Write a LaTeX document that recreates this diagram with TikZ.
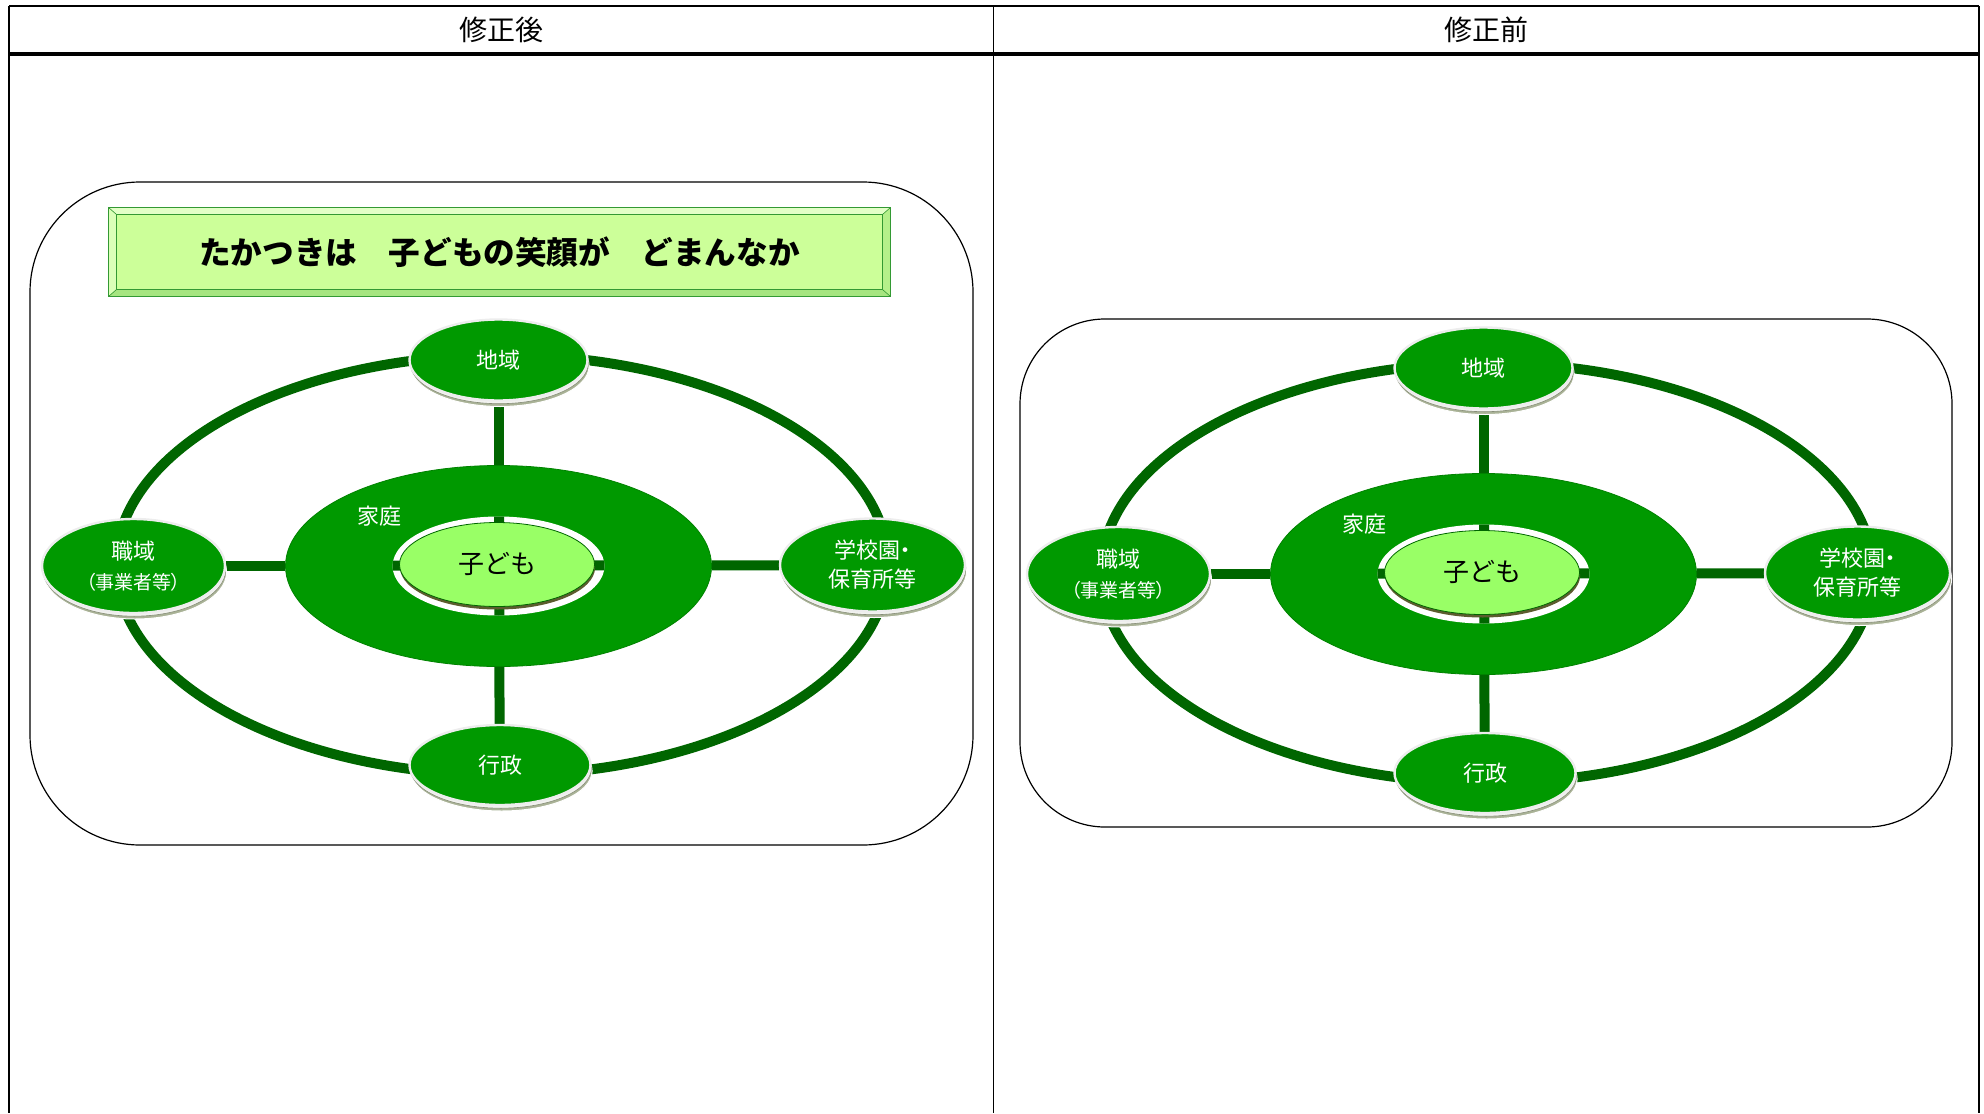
\documentclass[tikz,border=0pt]{standalone}
\usepackage{fontspec}
\newfontfamily\jp{Noto Sans CJK JP}
\usetikzlibrary{shapes.geometric,shadows,backgrounds}

\definecolor{ringgreen}{HTML}{006600}
\definecolor{nodegreen}{HTML}{009900}
\definecolor{childgreen}{HTML}{99FF66}
\definecolor{childshade}{HTML}{5C5C2E}
\definecolor{baseolive}{HTML}{A9B296}
\definecolor{titleface}{HTML}{CCFF99}
\definecolor{titleedge}{HTML}{339933}

\tikzset{
  header/.style={font=\jp\fontsize{14}{16}\selectfont},
  panel/.style={draw=black, line width=0.6pt},
  ringline/.style={ellipse, draw=ringgreen, line width=5pt, inner sep=0pt,
    minimum width=386pt, minimum height=210pt},
  spoke/.style={draw=ringgreen, line width=5pt},
  katei/.style={ellipse, fill=nodegreen, draw=nodegreen!85!black, line width=0.4pt,
    inner sep=0pt, minimum width=213pt, minimum height=100.5pt},
  gap/.style={ellipse, fill=white, inner sep=0pt, minimum width=106pt, minimum height=49.5pt},
  kodomo/.style={ellipse, fill=childgreen, draw=ringgreen, line width=0.4pt, inner sep=0pt,
    minimum width=97.5pt, minimum height=42pt, font=\jp\fontsize{13}{15}\selectfont,
    copy shadow={shadow xshift=0.3pt, shadow yshift=-1.5pt, fill=childshade, draw=none}},
  outer/.style={ellipse, fill=nodegreen, draw=white!93!black, line width=1.2pt, text=white,
    inner sep=0pt, align=center, font=\jp\fontsize{11}{14}\selectfont,
    copy shadow={shadow xshift=0.8pt, shadow yshift=-3pt, fill=baseolive, draw=white, line width=0.5pt},
    copy shadow={shadow xshift=0.4pt, shadow yshift=-1.6pt, fill=white!85!baseolive,
      draw=baseolive!80!black, line width=0.3pt}},
  kateilabel/.style={text=white, font=\jp\fontsize{11}{13}\selectfont},
  titlebox/.style={fill=titleface, draw=titleedge, line width=0.6pt, inner sep=0pt,
    minimum width=390.5pt, minimum height=44pt, font=\jp\bfseries\fontsize{15.8}{18}\selectfont},
}

% one ring picture, used in both columns
\newcommand{\ringdiagram}{%
  \node[ringline] (ring) at (502,565) {};
  \node[katei] (katei) at (498.5,566) {};
  \node[gap] (gap) at (498.5,566) {};
  \node[outer, minimum width=89pt, minimum height=40.5pt] (chiiki) at (498.5,360) {地域};
  \node[outer, minimum width=90.5pt, minimum height=40pt] (gyosei) at (500,765) {行政};
  \node[outer, minimum width=91.5pt, minimum height=47pt] (shokuiki) at (133.5,566)
    {職域\\[1pt]{\fontsize{9.5}{11}\selectfont\addfontfeatures{RawFeature=+palt}（事業者等）}};
  \node[outer, minimum width=92.5pt, minimum height=46.5pt, font=\jp\fontsize{11}{14.5}\selectfont]
    (gakko) at (872.5,565) {学校園{\addfontfeatures{RawFeature=+palt}・}\\保育所等};
  \begin{pgfonlayer}{background}
    \draw[spoke] (chiiki) -- (katei);
    \draw[spoke] (gyosei) -- (katei);
    \draw[spoke] (shokuiki) -- (katei);
    \draw[spoke] (gakko) -- (katei);
  \end{pgfonlayer}
  \begin{scope}
    \clip (gap.center) ellipse [x radius=53pt, y radius=24.75pt];
    \draw[spoke] (chiiki) -- (gyosei);
    \draw[spoke] (shokuiki) -- (gakko);
  \end{scope}
  \node[kodomo] (kodomo) at (497,564.5) {\raisebox{1.5pt}{子ども}};
  \node[kateilabel] (kateitxt) at (379,516) {家庭};
}

\begin{document}
\begin{tikzpicture}[x=0.5pt,y=-0.5pt]
\useasboundingbox (0,0) rectangle (1984,1113);

% table
\draw[line width=1.2pt] (9,6) -- (1979,6);
\draw[line width=1.6pt] (9,54) -- (1979,54);
\draw[line width=0.8pt] (9,6) -- (9,1113);
\draw[line width=0.5pt] (993,6) -- (993,1113);
\draw[line width=0.8pt] (1979,6) -- (1979,1113);
\node[header] (after) at (501,30) {修正後};
\node[header] (before) at (1486,30) {修正前};

% left column
\draw[panel, rounded corners=55pt] (30,182) rectangle (973,845);
\node[titlebox] (title) at (499.5,252) {たかつきは　子どもの笑顔が　どまんなか};
\fill[titleface!55!white] (title.north west) -- (title.north east) -- ([shift={(-8,7)}]title.north east)
  -- ([shift={(8,7)}]title.north west) -- cycle;
\fill[titleface!70!white] (title.north west) -- (title.south west) -- ([shift={(8,-7)}]title.south west)
  -- ([shift={(8,7)}]title.north west) -- cycle;
\fill[titleface!75!titleedge] (title.south west) -- (title.south east) -- ([shift={(-8,-7)}]title.south east)
  -- ([shift={(8,-7)}]title.south west) -- cycle;
\fill[titleface!85!titleedge] (title.north east) -- (title.south east) -- ([shift={(-8,-7)}]title.south east)
  -- ([shift={(-8,7)}]title.north east) -- cycle;
\draw[titleedge, line width=0.4pt] ([shift={(8,7)}]title.north west) rectangle ([shift={(-8,-7)}]title.south east);
\draw[titleedge, line width=0.3pt] (title.north west) -- ([shift={(8,7)}]title.north west)
  (title.north east) -- ([shift={(-8,7)}]title.north east)
  (title.south west) -- ([shift={(8,-7)}]title.south west)
  (title.south east) -- ([shift={(-8,-7)}]title.south east);
\draw[titleedge, line width=0.6pt] (title.north west) rectangle (title.south east);
\begin{scope}[name prefix=after-]
  \ringdiagram
\end{scope}

% right column
\draw[panel, rounded corners=42.5pt] (1020,319) rectangle (1952,827);
\begin{scope}[shift={(985,8)}, name prefix=before-]
  \ringdiagram
\end{scope}
\end{tikzpicture}
\end{document}
